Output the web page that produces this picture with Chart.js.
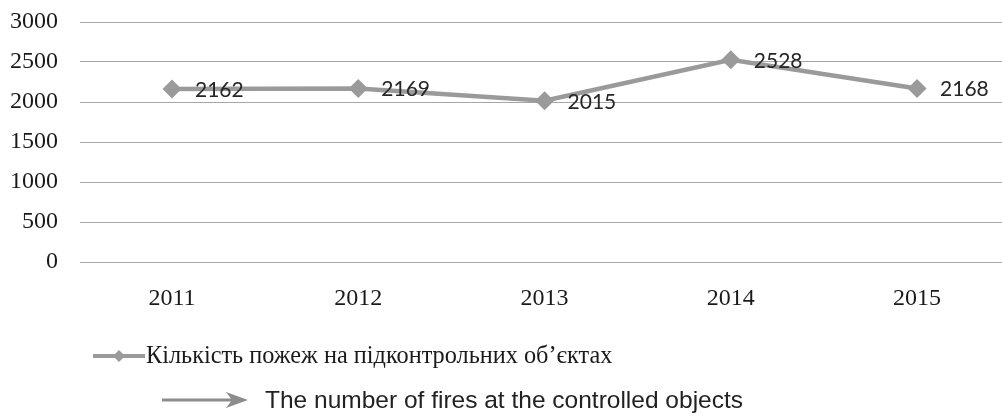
<!DOCTYPE html>
<html lang="uk">
<head>
<meta charset="UTF-8">
<title>Кількість пожеж на підконтрольних об'єктах</title>
<script src="https://cdn.jsdelivr.net/npm/chart.js"></script>
<style>
    body { margin: 0; background: #fff; }
    #wrap { position: relative; width: 1002px; height: 415px; }
    #chart { position: absolute; left: 0; top: 0; }
    #arrow { position: absolute; left: 160px; top: 390px; }
    #caption {
        position: absolute; left: 265px; top: 386px;
        font: 24.5px "Liberation Sans", Arial, sans-serif;
        line-height: 28px; color: #222; white-space: nowrap;
    }
</style>
</head>
<body>
<div id="wrap">
    <canvas id="chart" width="1002" height="415"></canvas>
    <svg id="arrow" width="92" height="20">
        <line x1="2" y1="10" x2="78" y2="10" stroke="#8c8c8c" stroke-width="3"/>
        <polygon points="88,10 66,2 72,10 66,18" fill="#8c8c8c"/>
    </svg>
    <div id="caption">The number of fires at the controlled objects</div>
</div>

<script>
    // дані
    var years = [2011, 2012, 2013, 2014, 2015];
    var fires = [2162, 2169, 2015, 2528, 2168];
    var yTicks = [0, 500, 1000, 1500, 2000, 2500, 3000];
    var seriesName = "Кількість пожеж на підконтрольних об’єктах";

    var grey = "#9a9a9a";
    var serif = '"Liberation Serif", "Times New Roman", serif';

    // підписи значень праворуч від точок
    var valueLabels = {
        id: "valueLabels",
        afterDatasetsDraw: function (chart) {
            var ctx = chart.ctx;
            var meta = chart.getDatasetMeta(0);
            ctx.save();
            ctx.font = '21px Lato, "Open Sans", sans-serif';
            ctx.fillStyle = "#262626";
            ctx.textAlign = "left";
            ctx.textBaseline = "middle";
            meta.data.forEach(function (pt, i) {
                ctx.fillText(String(fires[i]), pt.x + 23, pt.y + 1);
            });
            ctx.restore();
        }
    };

    // легенда внизу: лінія з ромбом
    var bottomLegend = {
        id: "bottomLegend",
        afterDraw: function (chart) {
            var ctx = chart.ctx;
            var y = 356;
            ctx.save();
            ctx.strokeStyle = grey;
            ctx.lineWidth = 4;
            ctx.beginPath();
            ctx.moveTo(93, y);
            ctx.lineTo(145, y);
            ctx.stroke();
            ctx.fillStyle = grey;
            ctx.beginPath();
            ctx.moveTo(119, y - 6);
            ctx.lineTo(125, y);
            ctx.lineTo(119, y + 6);
            ctx.lineTo(113, y);
            ctx.closePath();
            ctx.fill();
            ctx.font = "24.3px " + serif;
            ctx.fillStyle = "#1a1a1a";
            ctx.textBaseline = "middle";
            ctx.fillText(chart.data.datasets[0].label, 146, y + 1);
            ctx.restore();
        }
    };

    new Chart(document.getElementById("chart"), {
        type: "line",
        data: {
            datasets: [{
                label: seriesName,
                data: years.map(function (yr, i) { return { x: yr, y: fires[i] }; }),
                borderColor: grey,
                backgroundColor: grey,
                borderWidth: 4.5,
                pointStyle: "rectRot",
                pointRadius: 9.5,
                pointBorderWidth: 0,
                tension: 0
            }]
        },
        options: {
            responsive: false,
            animation: false,
            layout: { autoPadding: false, padding: { top: 22, right: 0, left: 0, bottom: 0 } },
            plugins: {
                legend: { display: false },
                tooltip: { enabled: false }
            },
            scales: {
                x: {
                    type: "linear",
                    min: 2010.506,
                    max: 2015.456,
                    // прозорі засічки дають відступ підписів без зайвого padding
                    grid: { color: "rgba(0,0,0,0)", drawTicks: true, tickLength: 22 },
                    border: { display: false },
                    afterBuildTicks: function (scale) {
                        scale.ticks = years.map(function (v) { return { value: v }; });
                    },
                    afterFit: function (scale) {
                        scale.height = 153;
                        scale.paddingLeft = 0;
                        scale.paddingRight = 0;
                    },
                    ticks: {
                        padding: 0,
                        color: "#1a1a1a",
                        font: { family: serif, size: 24 },
                        callback: function (v) { return String(v); }
                    }
                },
                y: {
                    min: 0,
                    max: 3000,
                    afterBuildTicks: function (scale) {
                        scale.ticks = yTicks.map(function (v) { return { value: v }; });
                    },
                    afterFit: function (scale) { scale.width = 80; },
                    grid: {
                        color: "#a6a6a6", lineWidth: 1,
                        drawTicks: true, tickLength: 22, tickColor: "rgba(0,0,0,0)"
                    },
                    border: { display: false },
                    ticks: {
                        padding: 0,
                        color: "#1a1a1a",
                        font: { family: serif, size: 24 },
                        callback: function (v) { return String(v); }
                    }
                }
            }
        },
        plugins: [valueLabels, bottomLegend]
    });
</script>
</body>
</html>
